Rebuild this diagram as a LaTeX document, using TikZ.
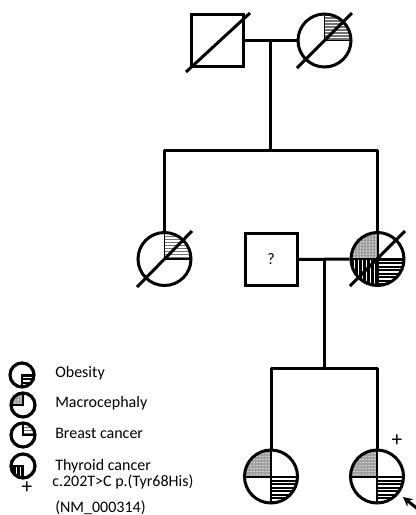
\documentclass[tikz,border=0pt]{standalone}
\usepackage{fontspec}
\setmainfont{Carlito}
\usetikzlibrary{arrows.meta}
% quadrant fills; #1 cx, #2 cy, #3 r (pixel coords, y down)
\newcommand\qBreast[3]{\begin{scope}
  \clip (#1,#2) circle (#3);
  \clip (#1,#2) rectangle ++(#3,-#3);
  \fill[white] (#1,#2) rectangle ++(#3,-#3);
  \foreach \k in {1.5,4.5,...,30}{\draw[black!55,line width=1.1pt] (#1,#2) ++(0,-\k) -- ++(#3,0);}
  \end{scope}
  \draw[qedge] (#1,#2) ++(0,-#3) -- (#1,#2) -- ++(#3,0);}
\newcommand\qObese[3]{\begin{scope}
  \clip (#1,#2) circle (#3);
  \clip (#1,#2) rectangle ++(#3,#3);
  \fill[black] (#1,#2) rectangle ++(#3,#3);
  \foreach \k in {2.5,6,...,30}{\draw[white,line width=0.8pt] (#1,#2) ++(0,\k) -- ++(#3,0);}
  \end{scope}
  \draw[qedge] (#1,#2) ++(0,#3) -- (#1,#2) -- ++(#3,0);}
\newcommand\qMacro[3]{\begin{scope}
  \clip (#1,#2) circle (#3);
  \clip (#1,#2) rectangle ++(-#3,-#3);
  \fill[black!38] (#1,#2) rectangle ++(-#3,-#3);
  \foreach \i in {2,5,...,29}{\foreach \j in {2,5,...,29}{\fill[white!85!black] (#1,#2) ++(-\i,-\j) circle (0.8);}}
  \end{scope}
  \draw[qedge] (#1,#2) ++(0,-#3) -- (#1,#2) -- ++(-#3,0);}
\newcommand\qThyroid[3]{\begin{scope}
  \clip (#1,#2) circle (#3);
  \clip (#1,#2) rectangle ++(-#3,#3);
  \fill[black] (#1,#2) rectangle ++(-#3,#3);
  \foreach \k in {3,7,...,30}{\draw[white,line width=0.7pt] (#1,#2) ++(-\k,0) -- ++(0,#3);}
  \end{scope}
  \draw[qedge] (#1,#2) ++(0,#3) -- (#1,#2) -- ++(-#3,0);}
\begin{document}
\begin{tikzpicture}[x=0.75pt,y=-0.75pt,
  qedge/.style={line width=1.2pt,line cap=butt},
  fem/.style={circle,draw,line width=2.25pt,minimum size=39.75pt,inner sep=0pt},
  male/.style={rectangle,draw,line width=2.25pt,minimum size=39pt,inner sep=0pt},
  lfem/.style={circle,draw,line width=2.4pt,minimum size=18pt,inner sep=0pt},
  link/.style={line width=2.25pt,line join=round},
  dec/.style={line width=2.25pt},
  lbl/.style={anchor=west,font=\fontsize{12pt}{14pt}\selectfont,inner sep=0pt}]
\useasboundingbox (0,0) rectangle (416,515);
% ---- fills
\qBreast{324.5}{40.5}{26.5}
\qBreast{164.5}{259}{26.5}
\qMacro{377.5}{259}{26.5}
\qThyroid{377.5}{259}{26.5}
\qObese{377.5}{259}{26.5}
\qMacro{271}{476.5}{26.5}
\qObese{271}{476.5}{26.5}
\qMacro{377}{476.5}{26.5}
\qObese{377}{476.5}{26.5}
\draw[line width=1.5pt] (377.5,232.5) -- (377.5,285.5) (351,259) -- (404,259);
\draw[line width=1.5pt] (271,450) -- (271,503) (244.5,476.5) -- (297.5,476.5);
\draw[line width=1.5pt] (377,450) -- (377,503) (350.5,476.5) -- (403.5,476.5);
% legend fills
\qObese{22}{375}{12}
\qMacro{23}{405}{12}
\qBreast{23}{435}{12}
\qThyroid{23}{466}{12}
% ---- symbols
\node[male] (gf) at (217.5,40.5) {};
\node[fem] (gm) at (324.5,40.5) {};
\node[fem] (aunt) at (164.5,259) {};
\node[male,font=\fontsize{12pt}{14pt}\selectfont] (fa) at (271,259.5) {?};
\node[fem] (mo) at (377.5,259) {};
\node[fem] (c1) at (271,476.5) {};
\node[fem] (c2) at (377,476.5) {};
% legend symbols
\node[lfem] (l1) at (22,375) {};
\node[lfem] (l2) at (23,405) {};
\node[lfem] (l3) at (23,435) {};
\node[lfem] (l4) at (23,466) {};
% ---- deceased lines
\draw[dec] (186,72) -- (250,13);
\draw[dec] (297,68) -- (352,13);
\draw[dec] (137,287) -- (192,231);
\draw[dec] (350,286) -- (405,231);
% ---- connectors
\coordinate (m1) at (270.7,40.5);
\coordinate (s1) at (270.7,150);
\coordinate (m2) at (324,259);
\coordinate (s2) at (324,368);
\draw[link] (gf.east) -- (gm.west);
\draw[link] (m1) -- (s1);
\draw[link] (aunt.north) -- (aunt.north |- s1) -- (mo.north |- s1) -- (mo.north);
\draw[link] (fa.east) -- (mo.west);
\draw[link] (m2) -- (s2);
\draw[link] (c1.north) -- (c1.north |- s2) -- (c2.north |- s2) -- (c2.north);
% ---- proband arrow and marks
\coordinate (at) at (419,510);
\coordinate (ah) at (403,497);
\draw[line width=2.25pt,-{Stealth[length=7pt,width=7pt]}] (at) -- (ah);
\node[lbl,anchor=center,font=\fontsize{16pt}{16pt}\selectfont] (plus1) at (397,441) {+};
% ---- legend texts
\node[lbl] (t1) at (55,373) {Obesity};
\node[lbl] (t2) at (55,403.5) {Macrocephaly};
\node[lbl] (t3) at (55,433.5) {Breast cancer};
\node[lbl] (t4) at (55,466) {Thyroid cancer};
\node[lbl] (t5) at (52,481.5) {c.202T>C p.(Tyr68His)};
\node[lbl] (t6) at (55,507.5) {(NM\_000314)};
\node[lbl,anchor=center,font=\fontsize{16pt}{16pt}\selectfont] (plus2) at (27,488) {+};
\end{tikzpicture}
\end{document}
